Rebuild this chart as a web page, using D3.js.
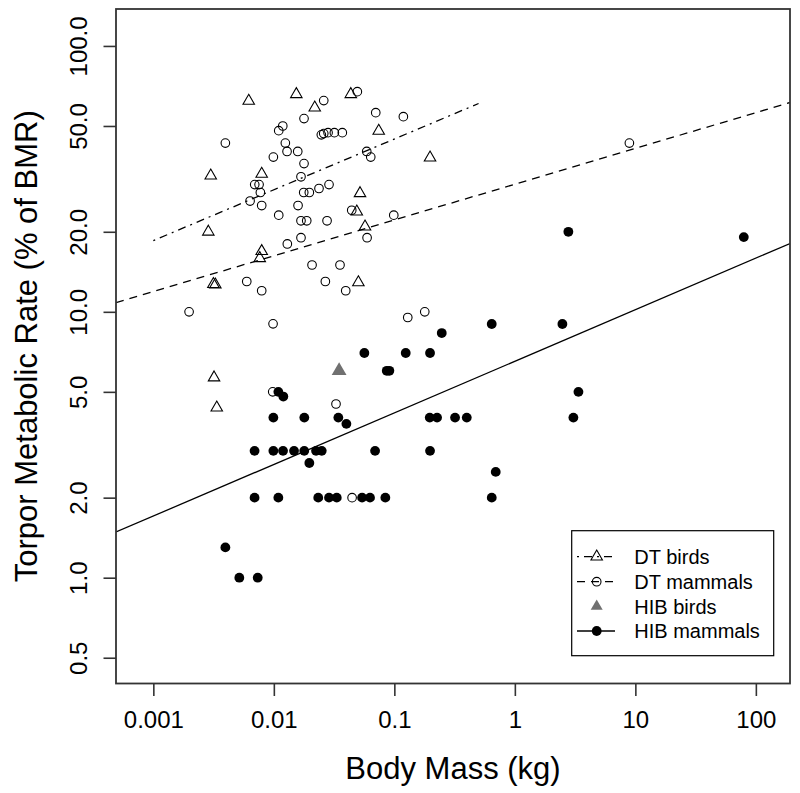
<!DOCTYPE html>
<html>
<head>
<meta charset="utf-8">
<script src="https://cdn.jsdelivr.net/npm/d3@7"></script>
<style>
  html, body { margin: 0; padding: 0; background: #fff; }
  svg { display: block; font-family: "Liberation Sans", Arial, Helvetica, sans-serif; }
</style>
</head>
<body>
<svg id="chart" width="800" height="793"></svg>
<script>
// ---------------- DATA ----------------
const xTickValues = [0.001, 0.01, 0.1, 1, 10, 100];
const xTickLabels = ["0.001", "0.01", "0.1", "1", "10", "100"];
const yTickValues = [100, 50, 20, 10, 5, 2, 1, 0.5];
const yTickLabels = ["100.0", "50.0", "20.0", "10.0", "5.0", "2.0", "1.0", "0.5"];

const dtBirdMass = [0.00619, 0.01537, 0.0435, 0.02185, 0.0742, 0.1978, 0.002995, 0.00793, 0.0519, 0.0488,
  0.0571, 0.00286, 0.00793, 0.00764, 0.00315, 0.00327, 0.0503, 0.00319, 0.00336];
const dtBirdRate = [62.1, 65.8, 65.8, 58.6, 47.9, 38.0, 32.5, 33.0, 27.9, 23.8,
  20.9, 20.0, 16.9, 15.9, 12.7, 12.65, 12.9, 5.66, 4.36];

const dtMammalMass = [0.0493, 0.02595, 0.0701, 0.1188, 0.0178, 0.01186, 0.01098, 0.00396, 0.01246, 0.02478,
  0.02595, 0.02818, 0.03178, 0.0370, 0.01287, 0.01579, 0.00991, 0.0590, 0.0637, 0.0178,
  0.0168, 0.00694, 0.00754, 0.00773, 0.0287, 0.0237, 0.0177, 0.0197, 0.00635, 0.00793,
  0.01588, 0.0443, 0.0989, 0.01098, 0.0168, 0.01875, 0.02764, 0.0594, 0.0168, 0.01294,
  0.02075, 0.0354, 0.00596, 0.02676, 0.00793, 0.0395, 0.00198, 0.00985, 0.1292, 0.1788,
  8.92, 0.00979, 0.0328, 0.0446];
const dtMammalRate = [67.3, 62.3, 56.1, 54.2, 53.3, 50.0, 48.0, 43.1, 43.1, 46.3,
  46.8, 47.2, 47.2, 47.2, 40.1, 40.1, 38.2, 40.1, 38.2, 36.1,
  32.2, 30.1, 30.1, 28.1, 30.1, 29.1, 28.1, 28.1, 26.1, 25.1,
  25.1, 24.1, 23.1, 23.1, 22.0, 22.0, 22.0, 19.0, 19.0, 18.0,
  15.0, 15.0, 13.0, 13.0, 12.0, 12.0, 10.0, 9.01, 9.52, 10.0,
  43.1, 5.0, 4.5, 2.0];

const hibBirdMass = [0.0348];
const hibBirdRate = [6.0];

const hibMammalMass = [0.2474, 0.0564, 0.1243, 0.1978, 0.0865, 0.0909, 0.0109, 0.01199, 0.00991, 0.0179,
  0.0343, 0.04, 0.1967, 0.2262, 0.319, 0.399, 3.06, 3.37, 0.00692, 0.00991,
  0.01192, 0.01471, 0.01788, 0.0224, 0.02497, 0.0197, 0.0692, 0.1978, 0.694, 0.00692,
  0.0109, 0.02336, 0.0287, 0.03327, 0.0540, 0.0628, 0.0842, 0.643, 0.00396, 0.00517,
  0.00735, 0.643, 2.48, 2.78, 79.4];
const hibMammalRate = [8.32, 7.0, 7.0, 7.0, 6.0, 6.0, 5.0, 4.8, 4.0, 4.0,
  4.0, 3.79, 4.0, 4.0, 4.0, 4.0, 4.0, 5.0, 3.0, 3.0,
  3.0, 3.0, 3.0, 3.0, 3.0, 2.7, 3.0, 3.0, 2.5, 2.0,
  2.0, 2.0, 2.0, 2.0, 2.0, 2.0, 2.0, 2.0, 1.3, 1.0,
  1.0, 9.0, 9.0, 20.0, 19.1];

// fitted lines: log10(rate) = intercept + slope * log10(mass)
const fitNames = ["DT birds", "DT mammals", "HIB mammals"];
const fitIntercept = [1.841, 1.480, 0.814];
const fitSlope = [0.191, 0.1346, 0.194];
const fitFrom = [0.001, 0.00049, 0.00049];
const fitTo = [0.5, 192, 192];

const legendLabels = ["DT birds", "DT mammals", "HIB birds", "HIB mammals"];

const xLabel = "Body Mass (kg)";
const yLabel = "Torpor Metabolic Rate (% of BMR)";

// ---------------- LAYOUT ----------------
const L = 116, R = 790, T = 9, B = 683.5;
const svg = d3.select("#chart");
const x = d3.scaleLog().domain([0.00049, 192]).range([L, R]);
const y = d3.scaleLog().domain([0.4, 137.7]).range([B, T]);
const axisColor = "#333";

svg.append("defs").append("clipPath").attr("id", "clip")
  .append("rect").attr("x", L).attr("y", T).attr("width", R - L).attr("height", B - T);

// fitted lines
const dashes = ["2,5,8,5", "8,6", null];
const plot = svg.append("g").attr("clip-path", "url(#clip)");
const lineGen = d3.line().x(d => x(d[0])).y(d => y(d[1]));
fitNames.forEach((n, i) => {
  const pts = [fitFrom[i], fitTo[i]].map(m => [m, Math.pow(10, fitIntercept[i] + fitSlope[i] * Math.log10(m))]);
  plot.append("path").attr("d", lineGen(pts))
    .attr("fill", "none").attr("stroke", "#000").attr("stroke-width", 1.3)
    .attr("stroke-dasharray", dashes[i]);
});

const triOpen = d3.symbol().type(d3.symbolTriangle).size(57);
const triFill = d3.symbol().type(d3.symbolTriangle).size(95);
const triFillLeg = d3.symbol().type(d3.symbolTriangle).size(62);

// DT birds
plot.selectAll(".dtb").data(dtBirdMass.map((m, i) => [m, dtBirdRate[i]])).enter()
  .append("path").attr("d", triOpen)
  .attr("transform", d => `translate(${x(d[0])},${y(d[1])})`)
  .attr("fill", "none").attr("stroke", "#000").attr("stroke-width", 1.1);

// DT mammals
plot.selectAll(".dtm").data(dtMammalMass.map((m, i) => [m, dtMammalRate[i]])).enter()
  .append("circle").attr("cx", d => x(d[0])).attr("cy", d => y(d[1])).attr("r", 4.3)
  .attr("fill", "none").attr("stroke", "#000").attr("stroke-width", 1.1);

// HIB birds
plot.selectAll(".hb").data(hibBirdMass.map((m, i) => [m, hibBirdRate[i]])).enter()
  .append("path").attr("d", triFill)
  .attr("transform", d => `translate(${x(d[0])},${y(d[1])})`)
  .attr("fill", "#707070");

// HIB mammals
plot.selectAll(".hm").data(hibMammalMass.map((m, i) => [m, hibMammalRate[i]])).enter()
  .append("circle").attr("cx", d => x(d[0])).attr("cy", d => y(d[1])).attr("r", 4.9)
  .attr("fill", "#000");

// axes
const xAxis = d3.axisBottom(x).tickValues(xTickValues)
  .tickFormat((d, i) => xTickLabels[i]).tickSize(12.5).tickPadding(15).tickSizeOuter(0);
const gx = svg.append("g").attr("transform", `translate(0,${B})`).call(xAxis);
gx.select(".domain").remove();
gx.selectAll(".tick line").attr("stroke", axisColor).attr("stroke-width", 1.6);
gx.selectAll(".tick text").attr("font-size", 24).attr("fill", "#000")
  .attr("font-family", "Liberation Sans, Arial, sans-serif");

const yAxis = d3.axisLeft(y).tickValues(yTickValues)
  .tickFormat((d, i) => yTickLabels[i]).tickSize(12.5).tickSizeOuter(0);
const gy = svg.append("g").attr("transform", `translate(${L},0)`).call(yAxis);
gy.select(".domain").remove();
gy.selectAll(".tick line").attr("stroke", axisColor).attr("stroke-width", 1.6);
gy.selectAll(".tick text")
  .attr("x", null).attr("dy", null).attr("y", null)
  .attr("transform", "translate(-29.5,0) rotate(-90)")
  .attr("text-anchor", "middle")
  .attr("font-size", 24).attr("fill", "#000")
  .attr("font-family", "Liberation Sans, Arial, sans-serif");

// plot box
svg.append("rect").attr("x", L).attr("y", T).attr("width", R - L).attr("height", B - T)
  .attr("fill", "none").attr("stroke", axisColor).attr("stroke-width", 1.8);

// axis titles
svg.append("text").attr("x", (L + R) / 2).attr("y", 779).attr("text-anchor", "middle")
  .attr("font-size", 31).attr("fill", "#000").text(xLabel);
svg.append("text").attr("transform", `translate(37,${(T + B) / 2}) rotate(-90)`)
  .attr("text-anchor", "middle").attr("font-size", 31).attr("fill", "#000").text(yLabel);

// legend
const lg = svg.append("g");
lg.append("rect").attr("x", 571.7).attr("y", 530.7).attr("width", 202).attr("height", 125)
  .attr("fill", "#fff").attr("stroke", "#000").attr("stroke-width", 1.2);
const rowY = [556.7, 581.7, 606.3, 631];
const legDash = ["2,5,8,5", "8,6", null, null];
const legLine = [true, true, false, true];
legendLabels.forEach((lab, i) => {
  if (legLine[i]) {
    lg.append("line").attr("x1", 577).attr("x2", 615).attr("y1", rowY[i]).attr("y2", rowY[i])
      .attr("stroke", "#000").attr("stroke-width", 1.3).attr("stroke-dasharray", legDash[i]);
  }
  if (i === 0) {
    lg.append("path").attr("d", triOpen).attr("transform", `translate(596.7,${rowY[i]})`)
      .attr("fill", "none").attr("stroke", "#000").attr("stroke-width", 1.1);
  } else if (i === 1) {
    lg.append("circle").attr("cx", 596.7).attr("cy", rowY[i]).attr("r", 4.3)
      .attr("fill", "none").attr("stroke", "#000").attr("stroke-width", 1.1);
  } else if (i === 2) {
    lg.append("path").attr("d", triFillLeg).attr("transform", `translate(596.7,${rowY[i]})`)
      .attr("fill", "#707070");
  } else {
    lg.append("circle").attr("cx", 596.7).attr("cy", rowY[i]).attr("r", 4.9).attr("fill", "#000");
  }
  lg.append("text").attr("x", 634.3).attr("y", rowY[i]).attr("dy", "0.36em")
    .attr("font-size", 20).attr("fill", "#000").text(lab);
});
</script>
</body>
</html>
